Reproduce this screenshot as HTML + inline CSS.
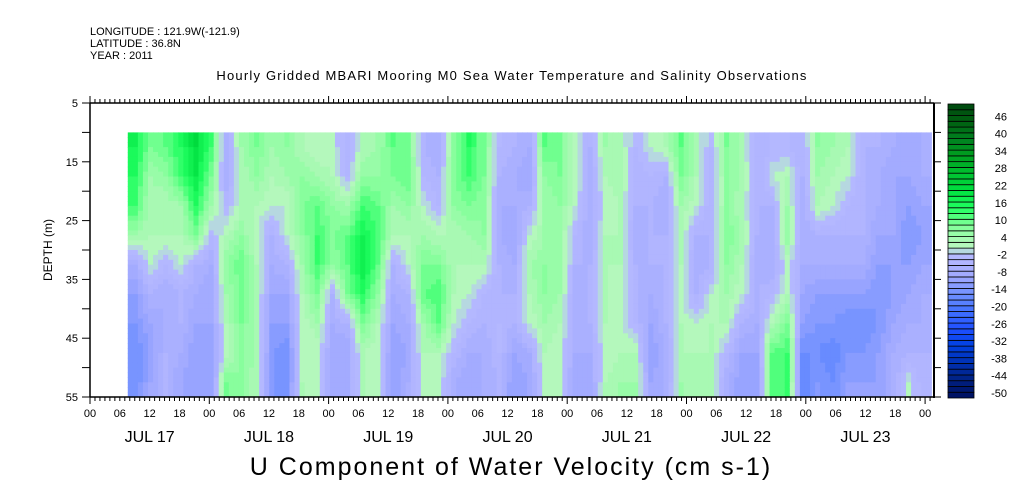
<!DOCTYPE html>
<html><head><meta charset="utf-8"><style>
body{margin:0;background:#fff;}
svg{display:block;font-family:"Liberation Sans",sans-serif;}
</style></head><body>
<svg id="chart" width="1009" height="504" viewBox="0 0 1009 504" xmlns="http://www.w3.org/2000/svg">
<g font-size="11" fill="#000">
<text x="90" y="35">LONGITUDE : 121.9W(-121.9)</text>
<text x="90" y="47">LATITUDE : 36.8N</text>
<text x="90" y="59">YEAR : 2011</text>
</g>
<text x="512" y="80" font-size="13" letter-spacing="1.2" text-anchor="middle">Hourly Gridded MBARI Mooring M0 Sea Water Temperature and Salinity Observations</text>
<text x="511" y="475" font-size="25" letter-spacing="2" text-anchor="middle">U Component of Water Velocity (cm s-1)</text>
<text transform="translate(52,250) rotate(-90)" font-size="12" text-anchor="middle">DEPTH (m)</text>
<g id="cells"></g>
<g id="axes"></g>
<g id="cbar"></g>
</svg>
<script>
// depth bin centers (m)
const depths = [12.5,17.5,22.5,27.5,32.5,37.5,42.5,47.5,52.5];
// start hour (from Jul 17 00:00) of the columns and spacing in hours
const startHour = 7.6, stepHours = 3.05;
// velocity columns (cm/s), top to bottom
const columns = [
[18,16,14,6,-6,-10,-12,-14,-14],[10,6,4,4,2,-4,-8,-10,-8],[12,8,4,4,-2,-6,-6,-4,-4],
[16,14,6,4,2,-4,-4,-6,-8],[22,20,16,10,-4,-6,-8,-10,-10],[14,10,6,-2,-6,-8,-8,-10,-10],
[-6,-6,-2,4,8,6,4,2,10],[6,4,4,8,12,10,10,8,8],[10,8,4,2,4,4,4,6,4],
[6,4,2,-4,-6,-8,-10,-12,-12],[8,6,2,2,-4,-8,-10,-14,-14],[4,8,10,8,6,4,2,2,4],
[2,6,12,14,14,10,6,2,2],[2,4,8,10,8,-4,-6,-8,-8],[-4,-2,6,12,12,10,-4,-8,-8],
[4,8,14,18,20,16,10,4,4],[6,8,12,14,12,8,4,2,2],
[12,10,6,4,-4,-6,-8,-10,-10],[10,12,8,4,2,-4,-6,-8,-6],[-4,-2,2,6,10,12,6,4,2],
[-6,-4,-2,4,10,14,12,4,2],[8,10,8,4,4,4,2,-2,-6],[16,14,10,6,4,2,-2,-6,-8],
[10,10,8,8,4,-2,-4,-6,-6],[-2,-4,-6,-6,-4,-4,-2,-2,-4],[-4,-6,-6,-8,-6,-4,-4,-8,-10],
[-6,-8,-4,2,6,4,2,-6,-8],[12,8,6,6,8,8,6,4,2],[10,10,8,6,8,6,4,2,2],
[2,4,2,-2,-4,-6,-6,-6,-8],[-4,-6,-6,-6,-4,-4,-4,-6,-8],[6,4,2,4,4,4,4,2,4],
[4,6,4,4,4,2,2,4,6],[-2,-4,-4,-6,-4,-4,-2,4,6],[2,-2,-4,-4,-4,-6,-8,-10,-8],
[4,-4,-6,-4,-4,-4,-4,-6,-6],
[12,10,6,4,4,2,4,4,6],[4,4,2,-4,-6,-4,2,4,4],[-2,-4,-4,-4,-4,2,4,4,4],
[10,8,8,10,8,6,4,-2,-6],[4,6,4,6,4,2,-4,-8,-10],[-4,-4,-4,-4,-6,-4,-6,-8,-10],
[-2,2,-4,-6,-6,-2,4,12,12],[-2,4,6,8,2,4,10,14,14],[-4,-4,-6,-6,-6,-8,-10,-14,-16],
[8,6,4,-4,-6,-10,-12,-14,-12],[6,4,2,-4,-6,-10,-12,-16,-14],[4,2,-2,-4,-6,-10,-14,-12,-10],
[-4,-4,-4,-4,-6,-10,-14,-12,-10],[-4,-6,-6,-8,-10,-12,-12,-10,-10],[-6,-8,-8,-8,-10,-10,-8,-6,-6],
[-8,-8,-10,-12,-10,-8,-6,-4,2],[-6,-6,-8,-10,-8,-6,-6,-4,-4]
];
const depthTicks = [5,15,25,35,45,55];
const hourLabels = ["00","06","12","18"];
const dayLabels = ["JUL 17","JUL 18","JUL 19","JUL 20","JUL 21","JUL 22","JUL 23"];
const cbarLabels = [46,40,34,28,22,16,10,4,-2,-8,-14,-20,-26,-32,-38,-44,-50];
const cbarMin = -50, cbarMax = 52, cbarStep = 2;

const NS="http://www.w3.org/2000/svg";
const X0=90, PXH=119.3/24, XR=934, Y0=103, PXM=(397-103)/50;
const xs=h=>X0+h*PXH, ys=d=>Y0+(d-5)*PXM;
const stops=[[-50,[0,16,96]],[-44,[0,32,128]],[-38,[0,48,176]],[-32,[0,64,224]],[-26,[32,80,255]],[-20,[64,112,255]],[-14,[112,144,255]],[-8,[160,168,255]],[-2,[180,184,255]],[0,[180,184,255]],[2,[184,248,192]],[4,[176,248,184]],[10,[128,255,152]],[16,[32,255,96]],[22,[0,224,64]],[28,[0,192,48]],[34,[0,160,32]],[40,[0,128,32]],[46,[0,96,16]],[52,[0,72,16]]];
function color(v){
  v=Math.floor(v/cbarStep)*cbarStep+1;
  for(let i=0;i<stops.length-1;i++){const[a,ca]=stops[i],[b,cb]=stops[i+1];
    if(v<=b||i==stops.length-2){const t=Math.max(0,Math.min(1,(v-a)/(b-a)));
      return`rgb(${ca.map((c,k)=>Math.round(c+(cb[k]-c)*t)).join(",")})`;}}
}
function mk(tag,attrs,parent){const e=document.createElementNS(NS,tag);for(const k in attrs)e.setAttribute(k,attrs[k]);parent.appendChild(e);return e;}
const cells=document.getElementById('cells');
const n=columns.length, m=depths.length;
function val(ci,di){ci=Math.max(0,Math.min(n-1,ci));di=Math.max(0,Math.min(m-1,di));return columns[ci][di];}
const SX=3, SY=6;
for(let c=0;c<n;c++){
  for(let d=0;d<m;d++){
    for(let sx=0;sx<SX;sx++)for(let sy=0;sy<SY;sy++){
      const fx=(sx+0.5)/SX, fy=(sy+0.5)/SY;
      const cx=c+fx-0.5, cy=d+fy-0.5;
      const c0=Math.floor(cx), d0=Math.floor(cy), tx=cx-c0, ty=cy-d0;
      const v=(val(c0,d0)*(1-tx)+val(c0+1,d0)*tx)*(1-ty)+(val(c0,d0+1)*(1-tx)+val(c0+1,d0+1)*tx)*ty;
      const h0=startHour+stepHours*(c+sx/SX), h1=startHour+stepHours*(c+(sx+1)/SX);
      const dd=(depths[1]-depths[0]), dtop=depths[d]-dd/2;
      const x1=xs(h0), x2=Math.min(xs(h1),XR-2);
      if(x2<=x1) continue;
      const y1=ys(dtop+dd*sy/SY), y2=ys(dtop+dd*(sy+1)/SY);
      const r=mk('rect',{x:x1.toFixed(2),y:y1.toFixed(2),width:(x2-x1+0.6).toFixed(2),height:(y2-y1+0.6).toFixed(2),fill:color(v)},cells);
      
      
    }
  }
}
const ax=document.getElementById('axes');
const L=(x1,y1,x2,y2,w)=>mk('line',{x1,y1,x2,y2,stroke:'#000','stroke-width':w||1},ax);
L(X0,Y0,X0,397,1.5);L(XR,Y0,XR,398,2);L(X0,Y0,XR,Y0,1.5);L(X0,397,XR,397,1.5);
for(let h=0;xs(h)<=XR;h++){const x=xs(h), big=h%24==0;
  L(x,Y0,x,Y0-(big?7:4));L(x,397,x,397+(big?7:4));
  if(h%6==0){const t=mk('text',{x,y:417,'font-size':11,'text-anchor':'middle'},ax);t.textContent=hourLabels[(h/6)%4];
    }
}
dayLabels.forEach((s,i)=>{const t=mk('text',{x:xs(24*i+12),y:442,'font-size':16,'text-anchor':'middle'},ax);t.textContent=s;
  });
for(let d=5;d<=55;d+=5){const y=ys(d);L(X0-8,y,X0,y);L(XR,y,XR+7,y);}
depthTicks.forEach(d=>{const t=mk('text',{x:X0-12,y:ys(d)+4,'font-size':11,'text-anchor':'end'},ax);t.textContent=d;
  });
const cb=document.getElementById('cbar');
const CX=948,CW=26,CB=398,CT=104,cy=v=>CB-(v-cbarMin)/(cbarMax-cbarMin)*(CB-CT);
for(let v=cbarMin;v<cbarMax;v+=cbarStep){const r=mk('rect',{x:CX,y:cy(v+cbarStep),width:CW,height:cy(v)-cy(v+cbarStep),fill:color(v),stroke:'#000','stroke-width':0.8},cb);
  }
cbarLabels.forEach(v=>{const t=mk('text',{x:1007,y:cy(v)-1,'font-size':11,'text-anchor':'end'},cb);t.textContent=v;
  });
</script>
</body></html>
